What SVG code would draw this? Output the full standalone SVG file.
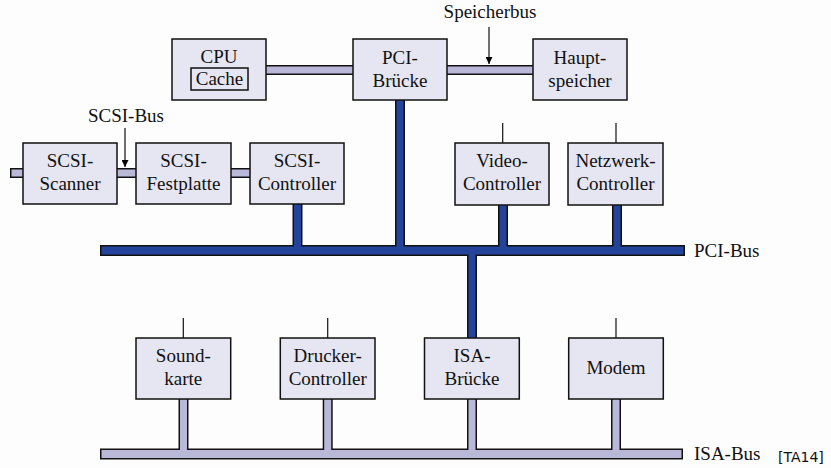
<svg xmlns="http://www.w3.org/2000/svg" width="831" height="468" viewBox="0 0 831 468">
<defs>
<marker id="ah" viewBox="0 0 10 10" refX="10" refY="5" markerWidth="7" markerHeight="7" markerUnits="userSpaceOnUse" orient="auto"><path d="M0,0 L10,5 L0,10 z" fill="#000"/></marker>
<style>
.box{fill:#e6e6f3;stroke:#111;stroke-width:1.5}
text{font-family:'Liberation Serif','DejaVu Serif',serif;font-size:19px;fill:#111}
.t{text-anchor:middle}
.stub{stroke:#111;stroke-width:1.2}
.bk{stroke:#111;fill:none}
.pci{stroke:#23449a;fill:none}
.isa{stroke:#bab8d9;fill:none}
</style>
</defs>
<rect width="831" height="468" fill="#fdfdfd"/>

<g id="connectors">
<g class="bk">
<line x1="100" y1="250.5" x2="685" y2="250.5" stroke-width="11"/>
<line x1="400" y1="100" x2="400" y2="250" stroke-width="10"/>
<line x1="297.5" y1="204" x2="297.5" y2="250" stroke-width="10"/>
<line x1="503" y1="205" x2="503" y2="250" stroke-width="10"/>
<line x1="617" y1="205" x2="617" y2="250" stroke-width="10"/>
<line x1="472" y1="251" x2="472" y2="338" stroke-width="10"/>
</g>
<g class="pci">
<line x1="101.5" y1="250.5" x2="683.5" y2="250.5" stroke-width="8"/>
<line x1="400" y1="100" x2="400" y2="251" stroke-width="7"/>
<line x1="297.5" y1="204" x2="297.5" y2="251" stroke-width="7"/>
<line x1="503" y1="205" x2="503" y2="251" stroke-width="7"/>
<line x1="617" y1="205" x2="617" y2="251" stroke-width="7"/>
<line x1="472" y1="250" x2="472" y2="338" stroke-width="7"/>
</g>
<g class="bk">
<line x1="100" y1="454" x2="683" y2="454" stroke-width="11"/>
<line x1="183.5" y1="399" x2="183.5" y2="454" stroke-width="10"/>
<line x1="327.7" y1="399" x2="327.7" y2="454" stroke-width="10"/>
<line x1="472" y1="399" x2="472" y2="454" stroke-width="10"/>
<line x1="616" y1="399" x2="616" y2="454" stroke-width="10"/>
</g>
<g class="isa">
<line x1="101.5" y1="454" x2="681.5" y2="454" stroke-width="8"/>
<line x1="183.5" y1="399" x2="183.5" y2="455" stroke-width="7"/>
<line x1="327.7" y1="399" x2="327.7" y2="455" stroke-width="7"/>
<line x1="472" y1="399" x2="472" y2="455" stroke-width="7"/>
<line x1="616" y1="399" x2="616" y2="455" stroke-width="7"/>
</g>
<g class="bk">
<line x1="266" y1="70" x2="353" y2="70" stroke-width="10"/>
<line x1="447" y1="70" x2="533" y2="70" stroke-width="10"/>
</g>
<g class="isa">
<line x1="266" y1="70" x2="353" y2="70" stroke-width="7"/>
<line x1="447" y1="70" x2="533" y2="70" stroke-width="7"/>
</g>
<g class="bk">
<line x1="10" y1="173" x2="23" y2="173" stroke-width="10"/>
<line x1="117" y1="173" x2="136" y2="173" stroke-width="10"/>
<line x1="231" y1="173" x2="250" y2="173" stroke-width="10"/>
</g>
<g class="isa">
<line x1="11.5" y1="173" x2="23" y2="173" stroke-width="7"/>
<line x1="117" y1="173" x2="136" y2="173" stroke-width="7"/>
<line x1="231" y1="173" x2="250" y2="173" stroke-width="7"/>
</g>
<line class="stub" x1="502.7" y1="123" x2="502.7" y2="143"/>
<line class="stub" x1="616" y1="123" x2="616" y2="143"/>
<line class="stub" x1="183.3" y1="318" x2="183.3" y2="338"/>
<line class="stub" x1="327.7" y1="318" x2="327.7" y2="338"/>
<line class="stub" x1="616" y1="318" x2="616" y2="338"/>
<line x1="489" y1="27" x2="489" y2="64" stroke="#111" stroke-width="1.2" marker-end="url(#ah)"/>
<line x1="125" y1="128" x2="125" y2="167" stroke="#111" stroke-width="1.2" marker-end="url(#ah)"/>
</g>

<g id="cpu">
<rect class="box" x="172" y="39" width="94" height="61"/>
<text class="t" x="219" y="63">CPU</text>
<rect x="191" y="68" width="57" height="22" fill="none" stroke="#111" stroke-width="1.5"/>
<text class="t" x="219.5" y="85">Cache</text>
</g>
<g id="pci-bruecke">
<rect class="box" x="353" y="39" width="94" height="61"/>
<text class="t" x="400" y="64">PCI-</text>
<text class="t" x="400" y="87">Brücke</text>
</g>
<g id="hauptspeicher">
<rect class="box" x="533" y="39" width="94" height="61"/>
<text class="t" x="580" y="64">Haupt-</text>
<text class="t" x="580" y="87">speicher</text>
</g>
<g id="scsi-scanner">
<rect class="box" x="23" y="143" width="94" height="61"/>
<text class="t" x="70" y="167">SCSI-</text>
<text class="t" x="70" y="190">Scanner</text>
</g>
<g id="scsi-festplatte">
<rect class="box" x="136" y="143" width="95" height="61"/>
<text class="t" x="183.5" y="167">SCSI-</text>
<text class="t" x="183.5" y="190">Festplatte</text>
</g>
<g id="scsi-controller">
<rect class="box" x="250" y="143" width="94" height="61"/>
<text class="t" x="297" y="167">SCSI-</text>
<text class="t" x="297" y="190">Controller</text>
</g>
<g id="video-controller">
<rect class="box" x="455" y="143" width="94" height="62"/>
<text class="t" x="502" y="167">Video-</text>
<text class="t" x="502" y="190">Controller</text>
</g>
<g id="netzwerk-controller">
<rect class="box" x="568" y="143" width="95" height="62"/>
<text class="t" x="615.5" y="167">Netzwerk-</text>
<text class="t" x="615.5" y="190">Controller</text>
</g>
<g id="soundkarte">
<rect class="box" x="136" y="338" width="94.7" height="61"/>
<text class="t" x="183.3" y="362">Sound-</text>
<text class="t" x="183.3" y="385">karte</text>
</g>
<g id="drucker-controller">
<rect class="box" x="280.3" y="338" width="94.7" height="61"/>
<text class="t" x="327.7" y="362">Drucker-</text>
<text class="t" x="327.7" y="385">Controller</text>
</g>
<g id="isa-bruecke">
<rect class="box" x="424.5" y="338" width="94.8" height="61"/>
<text class="t" x="472" y="362">ISA-</text>
<text class="t" x="472" y="385">Brücke</text>
</g>
<g id="modem">
<rect class="box" x="568.7" y="338" width="94.6" height="61"/>
<text class="t" x="616" y="374">Modem</text>
</g>

<g id="labels">
<text class="t" x="490" y="18">Speicherbus</text>
<text class="t" x="126" y="122">SCSI-Bus</text>
<text x="694" y="257">PCI-Bus</text>
<text x="694" y="460">ISA-Bus</text>
<text x="778" y="462" style="font-family:'DejaVu Sans','Liberation Sans',sans-serif;font-size:14px">[TA14]</text>
</g>
</svg>
